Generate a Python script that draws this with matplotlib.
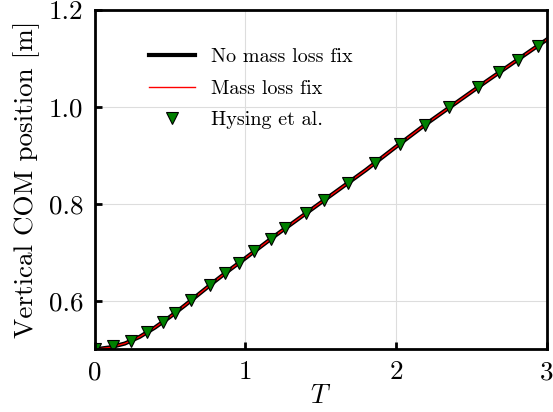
import matplotlib
matplotlib.use("Agg")
import matplotlib.pyplot as plt

plt.rcParams['font.family'] = ['cmr10']
plt.rcParams['mathtext.fontset'] = 'cm'
plt.rcParams['axes.unicode_minus'] = False
plt.rcParams['axes.formatter.use_mathtext'] = True

# simulation curves (both runs overlap)
t_sim = [0.0, 0.1, 0.2, 0.3, 0.4, 0.5, 0.6, 0.7, 0.8, 0.9, 1.0, 1.2, 1.4,
         1.6, 1.8, 2.0, 2.2, 2.4, 2.6, 2.8, 3.0]
y_no_fix = [0.500, 0.504, 0.512, 0.526, 0.545, 0.567, 0.591, 0.616, 0.641,
            0.665, 0.688, 0.735, 0.780, 0.825, 0.870, 0.918, 0.965, 1.009,
            1.053, 1.096, 1.139]
y_fix = [0.500, 0.504, 0.512, 0.526, 0.545, 0.567, 0.591, 0.616, 0.641,
         0.665, 0.688, 0.735, 0.780, 0.825, 0.870, 0.918, 0.965, 1.009,
         1.053, 1.096, 1.139]

# reference benchmark
t_ref = [0.0, 0.123, 0.243, 0.347, 0.457, 0.535, 0.641, 0.767, 0.863, 0.960,
         1.060, 1.170, 1.266, 1.403, 1.520, 1.682, 1.857, 2.025, 2.189, 2.353,
         2.544, 2.683, 2.805, 2.938]
y_ref = [0.500, 0.506, 0.5175, 0.535, 0.557, 0.576, 0.602, 0.632, 0.657, 0.679,
         0.702, 0.728, 0.751, 0.781, 0.807, 0.843, 0.884, 0.924, 0.963, 0.999,
         1.041, 1.071, 1.097, 1.126]

fig = plt.figure(figsize=(5.53, 4.12), dpi=100)
ax = fig.add_axes([0.171, 0.152, 0.818, 0.824])

ax.plot(t_sim, y_no_fix, color='black', lw=3, label='No mass loss fix')
ax.plot(t_sim, y_fix, color='red', lw=1, label='Mass loss fix')
ax.plot(t_ref, y_ref, ls='none', marker='v', ms=9, mfc='green', mec='black',
        mew=0.8, label='Hysing et al.')

ax.set_xlim(0, 3)
ax.set_ylim(0.5, 1.2)
ax.set_xticks([0, 1, 2, 3])
ax.set_yticks([0.6, 0.8, 1.0, 1.2])
ax.set_xticklabels(['0', '1', '2', '3'])
ax.set_yticklabels(['0.6', '0.8', '1.0', '1.2'])
ax.tick_params(direction='in', length=5, width=2, labelsize=19.5, pad=8,
               top=False, right=False)
for sp in ax.spines.values():
    sp.set_linewidth(2)
ax.grid(True, color='#dddddd', lw=0.8)
ax.set_axisbelow(True)

ax.set_xlabel('$T$', fontsize=19.5, labelpad=0)
ax.set_ylabel('Vertical COM position [m]', fontsize=19.5, labelpad=6)

ax.legend(loc='upper left', bbox_to_anchor=(0.08, 0.94), frameon=False,
          fontsize=14.5, handlelength=2.3, labelspacing=0.65)

fig.savefig('out.png', dpi=100)
